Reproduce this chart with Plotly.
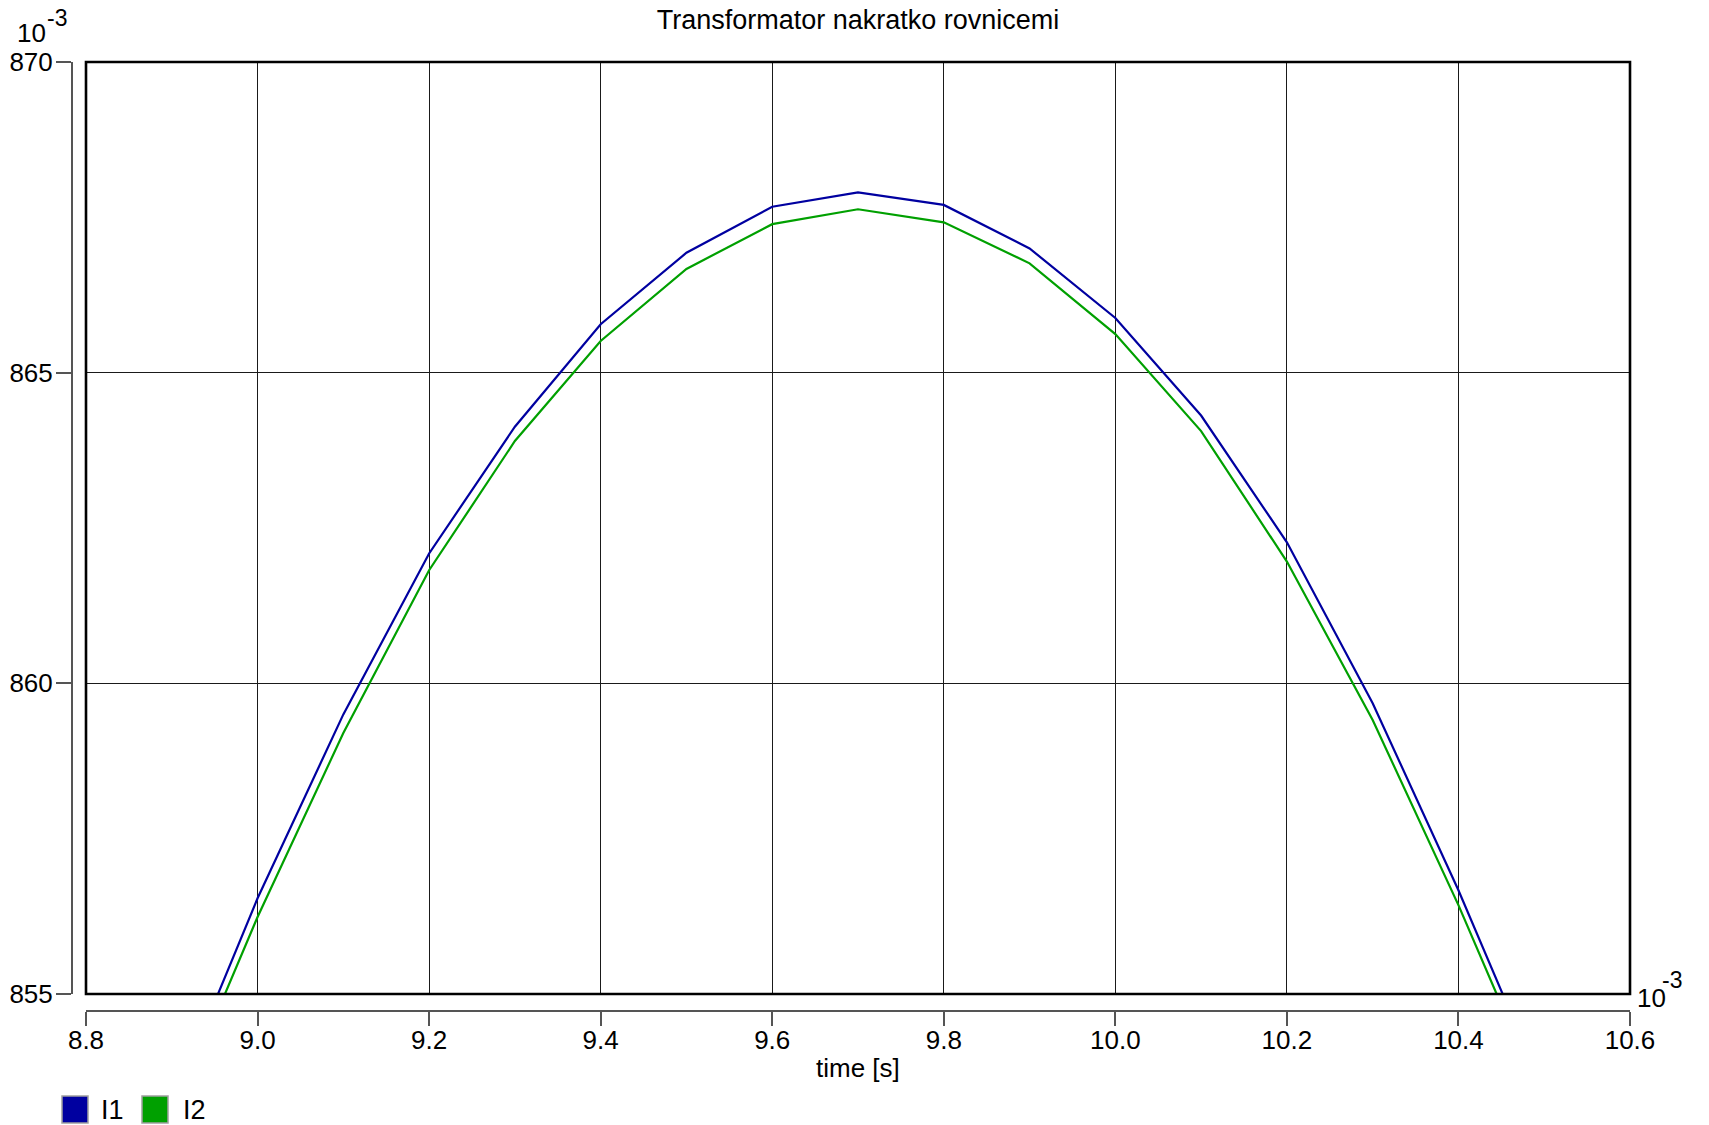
import plotly.graph_objects as go

# time in 10^-3 s, currents in 10^-3 units
time_ms = [8.9, 9.0, 9.1, 9.2, 9.3, 9.4, 9.5, 9.6, 9.7, 9.8, 9.9, 10.0, 10.1, 10.2, 10.3, 10.4, 10.5]
i1 = [853.2, 856.54, 859.5, 862.09, 864.13, 865.78, 866.93, 867.67, 867.90, 867.70, 867.0, 865.88, 864.31, 862.27, 859.68, 856.67, 853.43]
i2 = [852.98, 856.24, 859.2, 861.82, 863.90, 865.51, 866.67, 867.39, 867.63, 867.42, 866.76, 865.62, 864.06, 861.96, 859.41, 856.43, 853.22]

x_ticks = [8.8, 9.0, 9.2, 9.4, 9.6, 9.8, 10.0, 10.2, 10.4, 10.6]
x_tick_labels = ["8.8", "9.0", "9.2", "9.4", "9.6", "9.8", "10.0", "10.2", "10.4", "10.6"]
y_ticks = [855, 860, 865, 870]

series_names = ["I1", "I2"]
colors = ["#0000A0", "#00A000"]

W, H = 1709, 1125
ml, mr, mt, mb = 72, 79, 62, 114
pw = W - ml - mr
ph = H - mt - mb

FONT = "Liberation Sans, Arial, sans-serif"

fig = go.Figure()
for name, ys, c in zip(series_names, [i1, i2], colors):
    fig.add_trace(go.Scatter(x=time_ms, y=ys, mode="lines", name=name,
                             line=dict(color=c, width=2.2), showlegend=False))

fig.update_layout(
    width=W, height=H,
    margin=dict(l=ml, r=mr, t=mt, b=mb, pad=0, autoexpand=False),
    paper_bgcolor="white", plot_bgcolor="white",
    font=dict(family=FONT, size=26, color="black"),
    title=dict(text="Transformator nakratko rovnicemi", x=(858 - ml) / pw, xref="paper",
               xanchor="center", y=1 - 20 / H, yanchor="middle",
               font=dict(size=27, family=FONT, color="black")),
    xaxis=dict(range=[8.8, 10.6], domain=[14 / pw, 1], anchor="free", position=0,
               tickvals=x_ticks, ticktext=x_tick_labels, automargin=False,
               showgrid=True, gridcolor="#1a1a1a", gridwidth=1.3,
               showline=True, linecolor="#555555", linewidth=2,
               ticks="outside", ticklen=14, tickwidth=2, tickcolor="#555555",
               ticklabelstandoff=-8,
               zeroline=False, tickfont=dict(size=26)),
    yaxis=dict(range=[855, 870], domain=[17 / ph, 1], anchor="free", position=0,
               tickvals=y_ticks, automargin=False,
               showgrid=True, gridcolor="#1a1a1a", gridwidth=1.3,
               showline=True, linecolor="#555555", linewidth=2,
               ticks="outside", ticklen=15, tickwidth=2, tickcolor="#555555",
               ticklabelstandoff=-2,
               zeroline=False, tickfont=dict(size=26)),
    hovermode=False,
)

# plot frame
fig.add_shape(type="rect", xref="x domain", yref="y domain", x0=0, x1=1, y0=0, y1=1,
              line=dict(color="black", width=2.6), fillcolor="rgba(0,0,0,0)", layer="above")

def px_x(px):
    return (px - ml) / pw

def px_y(py):
    return (H - mb - py) / ph

# axis exponent labels ("10" and superscript "-3" drawn separately)
exp_labels = [(16, 33, 46, 18), (1636, 998, 1661, 980)]
for bx, by, sx, sy in exp_labels:
    fig.add_annotation(text="10", xref="paper", yref="paper",
                       x=px_x(bx), y=px_y(by), xanchor="left", yanchor="middle",
                       showarrow=False, font=dict(size=26, family=FONT), borderpad=0)
    fig.add_annotation(text="-3", xref="paper", yref="paper",
                       x=px_x(sx), y=px_y(sy), xanchor="left", yanchor="middle",
                       showarrow=False, font=dict(size=23, family=FONT), borderpad=0)

# x-axis title
fig.add_annotation(text="time [s]", xref="paper", yref="paper",
                   x=px_x(858), y=px_y(1068), xanchor="center", yanchor="middle",
                   showarrow=False, font=dict(size=26, family=FONT))

# legend (manual)
legend_boxes = [(62, 88, 99), (142, 168, 181)]
for (x0, x1, tx), name, c in zip(legend_boxes, series_names, colors):
    fig.add_shape(type="rect", xref="paper", yref="paper",
                  x0=px_x(x0), x1=px_x(x1), y0=px_y(1123), y1=px_y(1096),
                  line=dict(color="#a0a0a0", width=1.5), fillcolor=c)
    fig.add_annotation(text=name, xref="paper", yref="paper",
                       x=px_x(tx), y=px_y(1110), xanchor="left", yanchor="middle",
                       showarrow=False, font=dict(size=27, family=FONT))

fig.write_html("out.html")
